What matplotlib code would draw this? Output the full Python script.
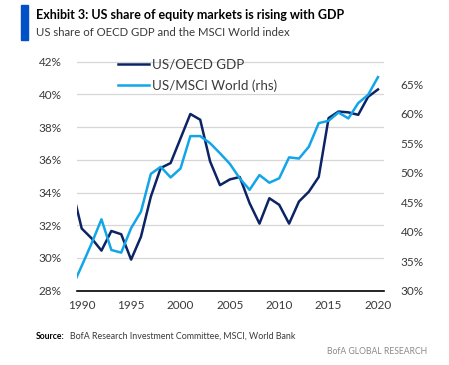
import matplotlib.pyplot as plt
from matplotlib.ticker import FuncFormatter

plt.rcParams['font.family'] = ['Lato', 'DejaVu Sans']

# data (1989 point only shows as the clipped start)
years = list(range(1989, 2021))
us_oecd_gdp = [34.3, 31.8, 31.2, 30.45, 31.65, 31.45, 29.9, 31.3, 33.75, 35.5,
               35.8, 37.3, 38.8, 38.45, 35.9, 34.45, 34.8, 34.95, 33.35, 32.1,
               33.65, 33.25, 32.1, 33.45, 34.05, 34.95, 38.55, 38.95, 38.9, 38.75,
               39.85, 40.3]
us_msci_world = [30.5, 34.2, 38.0, 42.1, 36.9, 36.45, 40.6, 43.4, 49.8, 51.0,
                 49.2, 50.7, 56.2, 56.2, 55.0, 53.3, 51.5, 49.05, 47.1, 49.6,
                 48.3, 49.05, 52.6, 52.4, 54.4, 58.4, 58.8, 60.2, 59.2, 61.8,
                 63.2, 66.2]
x_ticks = [1990, 1995, 2000, 2005, 2010, 2015, 2020]
left_ticks = [28, 30, 32, 34, 36, 38, 40, 42]
right_ticks = [30, 35, 40, 45, 50, 55, 60, 65]

navy = '#0c2466'
light = '#12a5e8'
tick_col = '#3a3a3a'

fig = plt.figure(figsize=(4.49, 3.65), dpi=100)
ax = fig.add_axes([0.171, 0.2036, 0.684, 0.632])
ax2 = ax.twinx()

l1, = ax.plot(years, us_oecd_gdp, color=navy, lw=1.8, label='US/OECD GDP')
l2, = ax2.plot(years, us_msci_world, color=light, lw=1.8, label='US/MSCI World (rhs)')

ax.set_xlim(1989.5, 2020.6)
ax.set_ylim(28, 42.1)
ax2.set_ylim(30, 69.1)
ax.set_xticks(x_ticks)
ax.set_yticks(left_ticks)
ax2.set_yticks(right_ticks)
pct = FuncFormatter(lambda v, p: '%d%%' % v)
ax.yaxis.set_major_formatter(pct)
ax2.yaxis.set_major_formatter(pct)

ax.grid(axis='y', color='#d6d6d6', lw=0.9)
ax.set_axisbelow(True)
for a in (ax, ax2):
    for s in ('top', 'left', 'right', 'bottom'):
        a.spines[s].set_visible(False)
ax.spines['bottom'].set_visible(True)
ax.spines['bottom'].set_color('black')
ax.spines['bottom'].set_linewidth(1.2)

ax.tick_params(axis='both', length=0, labelsize=8.5, colors=tick_col)
ax.tick_params(axis='y', pad=11)
ax.tick_params(axis='x', pad=7)
ax2.tick_params(axis='y', length=0, labelsize=8.5, colors=tick_col, pad=12)

ax2.legend(handles=[l1, l2], loc='upper left', bbox_to_anchor=(0.134, 1.005),
           frameon=False, fontsize=9.6, borderpad=0, borderaxespad=0,
           handlelength=2.3, handletextpad=0.25, labelspacing=0.62, labelcolor=tick_col)

# header
fig.patches.append(plt.Rectangle((21 / 449, 1 - 40 / 365), 7 / 449, 35 / 365,
                                 transform=fig.transFigure, color='#0050c8'))
fig.text(36 / 449, 1 - 15 / 365, 'Exhibit 3: US share of equity markets is rising with GDP',
         fontsize=9.0, fontweight='bold', color='black', va='center')
fig.text(36 / 449, 1 - 32 / 365, 'US share of OECD GDP and the MSCI World index',
         fontsize=8.2, color=tick_col, va='center')

# footer
fig.text(36 / 449, 1 - 336.5 / 365, 'Source:', fontsize=6.2, fontweight='bold', va='center')
fig.text(70 / 449, 1 - 336.5 / 365, 'BofA Research Investment Committee, MSCI, World Bank',
         fontsize=6.4, color=tick_col, va='center')
fig.text(427 / 449, 1 - 351 / 365, 'BofA GLOBAL RESEARCH', fontsize=6.2,
         color='#8a8a8a', ha='right', va='center')

fig.savefig('out.png', dpi=100)
